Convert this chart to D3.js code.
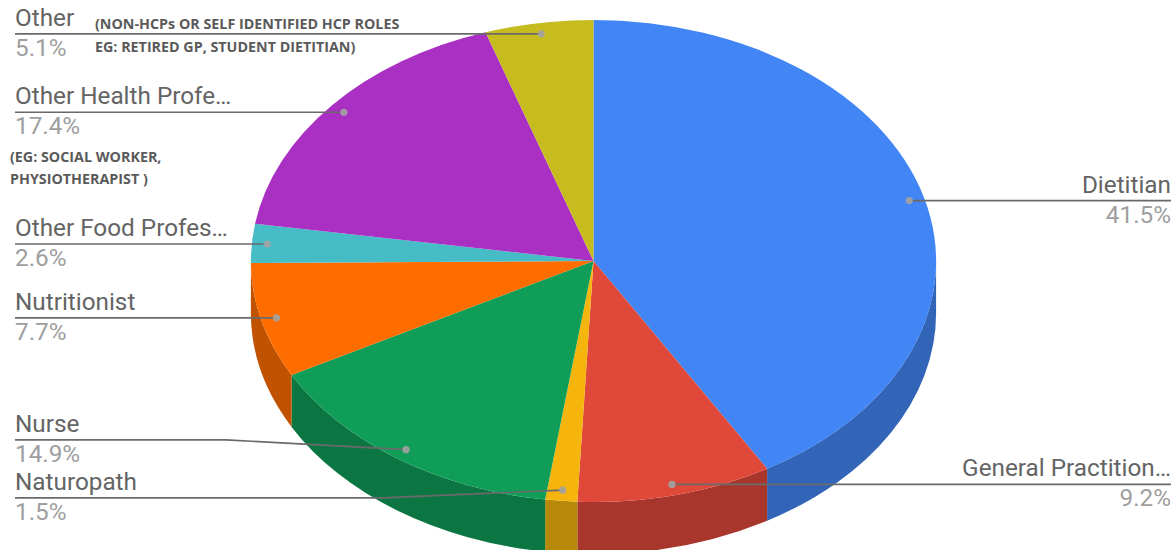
<!DOCTYPE html>
<html>
<head>
<meta charset="utf-8">
<script src="https://cdn.jsdelivr.net/npm/d3@7"></script>
<style>
  html, body { margin: 0; padding: 0; background: #fff; }
  svg { display: block; }
</style>
</head>
<body>
<svg id="chart" width="1176" height="550"></svg>
<script>
// Survey respondents by profession (share of respondents, %)
const categories = [
  "Dietitian", "General Practitioner", "Naturopath", "Nurse",
  "Nutritionist", "Other Food Professional", "Other Health Professional", "Other"
];
const shares = [41.5, 9.2, 1.5, 14.9, 7.7, 2.6, 17.4, 5.1];
const shortNames = [
  "Dietitian", "General Practition…", "Naturopath", "Nurse",
  "Nutritionist", "Other Food Profes…", "Other Health Profe…", "Other"
];
const colors = ["#4285f4", "#e0483a", "#f5b50c", "#0f9d58", "#ff6d00", "#46bdc6", "#aa30c4", "#c6bb1f"];
const otherNote = ["(NON-HCPs OR SELF IDENTIFIED HCP ROLES", "EG: RETIRED GP, STUDENT DIETITIAN)"];
const healthNote = ["(EG: SOCIAL WORKER,", "PHYSIOTHERAPIST )"];

const W = 1176, H = 550;
const cx = 593.5, cy = 261, rx = 342.6, ry = 241, depth = 52;
const k = ry / rx;            // vertical squash of the tilted disc
const D = depth / k;          // wall height in unsquashed units
const svg = d3.select("#chart");

const data = categories.map((c, i) => ({ name: c, short: shortNames[i], value: shares[i], color: colors[i] }));
const pie = d3.pie().value(d => d.value).sort(null).startAngle(0).endAngle(2 * Math.PI);
const arcs = pie(data);
const arc = d3.arc().innerRadius(0).outerRadius(rx);

const disc = svg.append("g").attr("transform", `translate(${cx},${cy}) scale(1,${k})`);

// Outer walls: only the front half (angles PI/2..3PI/2) faces the viewer
const frontA = Math.PI / 2, frontB = 3 * Math.PI / 2;
arcs.forEach(a => {
  const a0 = Math.max(a.startAngle, frontA), a1 = Math.min(a.endAngle, frontB);
  if (a1 <= a0) return;
  const p = d3.path();
  p.moveTo(rx * Math.sin(a0), -rx * Math.cos(a0));
  p.arc(0, 0, rx, a0 - Math.PI / 2, a1 - Math.PI / 2, false);
  p.lineTo(rx * Math.sin(a1), -rx * Math.cos(a1) + D);
  p.arc(0, D, rx, a1 - Math.PI / 2, a0 - Math.PI / 2, true);
  p.closePath();
  disc.append("path").attr("d", p.toString())
    .attr("fill", d3.color(a.data.color).darker(0.8).formatHex());
});

// Top faces
disc.selectAll("path.top").data(arcs).join("path")
  .attr("class", "top")
  .attr("d", arc)
  .attr("fill", d => d.data.color);

// Label anchors on the top face
const f = 0.955;
const labels = arcs.map(a => {
  const mid = (a.startAngle + a.endAngle) / 2;
  const x = cx + rx * f * Math.sin(mid);
  const y = cy - ry * f * Math.cos(mid);
  return { d: a.data, mid, x, y, side: Math.sin(mid) >= 0 ? "right" : "left", ly: y };
});

// Keep stacked labels on each side from overlapping
const minGap = 58;
["left", "right"].forEach(side => {
  const group = labels.filter(l => l.side === side).sort((a, b) => a.y - b.y);
  for (let iter = 0; iter < 20; iter++) {
    for (let i = 1; i < group.length; i++) {
      const gap = group[i].ly - group[i - 1].ly;
      if (gap < minGap) {
        const push = (minGap - gap) / 2;
        group[i - 1].ly -= push + 1;
        group[i].ly += push - 1;
      }
    }
  }
});

const leftX = 15, rightX = 1171;
const fontSize = 24.3;
const gLab = svg.append("g");
labels.forEach(l => {
  const pts = [];
  if (l.side === "left") {
    pts.push([leftX, l.ly]);
    if (Math.abs(l.ly - l.y) > 2) pts.push([l.x - 180, l.ly]);
    pts.push([l.x, l.y]);
  } else {
    pts.push([l.x, l.y]);
    if (Math.abs(l.ly - l.y) > 2) pts.push([l.x + 180, l.ly]);
    pts.push([rightX, l.ly]);
  }
  gLab.append("path").attr("d", d3.line()(pts))
    .attr("fill", "none").attr("stroke", "#6a6a6a").attr("stroke-width", 1.7);
  gLab.append("circle").attr("cx", l.x).attr("cy", l.y).attr("r", 3.6)
    .attr("fill", "#a3a3a3").attr("fill-opacity", 0.9);
  const anchor = l.side === "left" ? "start" : "end";
  const tx = l.side === "left" ? leftX : rightX;
  gLab.append("text").attr("x", tx).attr("y", l.ly - 8)
    .attr("text-anchor", anchor)
    .attr("font-family", "Roboto, sans-serif").attr("font-size", fontSize)
    .attr("fill", "#646464").text(l.d.short);
  gLab.append("text").attr("x", tx).attr("y", l.ly + 22)
    .attr("text-anchor", anchor)
    .attr("font-family", "Roboto, sans-serif").attr("font-size", fontSize)
    .attr("fill", "#9e9e9e").text(l.d.value.toFixed(1) + "%");
});

// Explanatory notes next to the catch-all groups
function note(lines, x, y0, lh) {
  const t = svg.append("text")
    .attr("font-family", "'Open Sans', sans-serif").attr("font-weight", 700)
    .attr("font-size", 14.3).attr("fill", "#5a5a5a");
  lines.forEach((s, i) => t.append("tspan").attr("x", x).attr("y", y0 + i * lh).text(s));
}
note(otherNote, 95, 29, 23);
note(healthNote, 10, 162, 22);
</script>
</body>
</html>
